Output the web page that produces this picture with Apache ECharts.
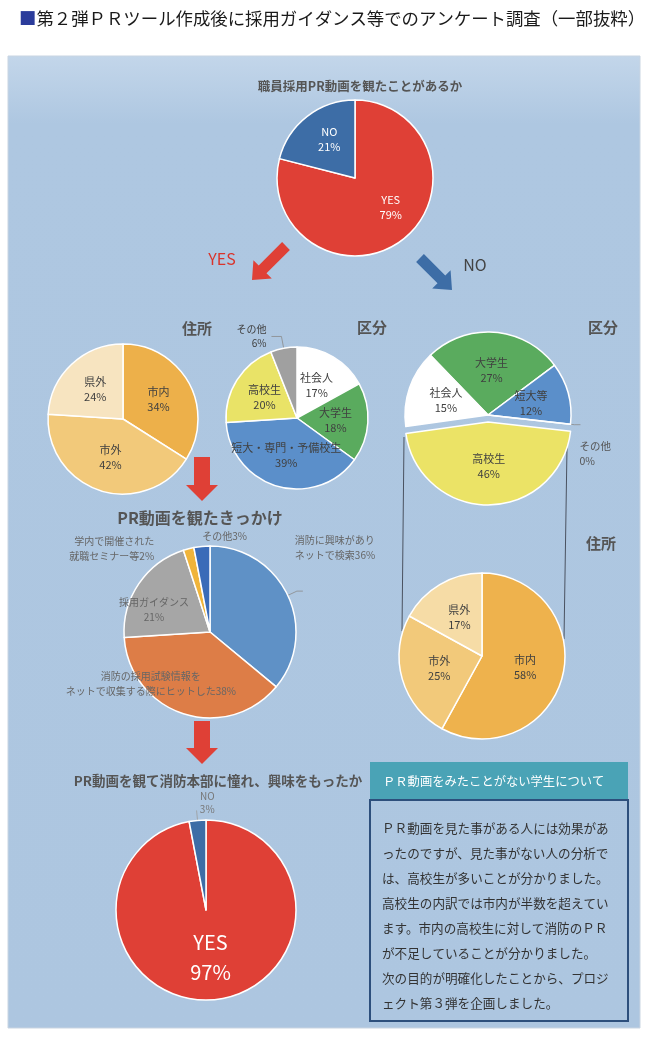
<!DOCTYPE html>
<html><head><meta charset="utf-8">
<script src="https://cdn.jsdelivr.net/npm/echarts@6/dist/echarts.min.js"></script>
<style>html,body{margin:0;padding:0;background:#fff;}#c{width:650px;height:1038px;}</style>
</head><body><div id="c"></div>
<script>
// ---- data ----
const seenLabels = ['YES', 'NO'];
const seenValues = [79, 21];

const yesAddrLabels = ['市内', '市外', '県外'];
const yesAddrValues = [34, 42, 24];

const yesKubunLabels = ['社会人', '大学生', '短大・専門・予備校生', '高校生', 'その他'];
const yesKubunValues = [17, 18, 39, 20, 6];

const noKubunLabels = ['大学生', '短大等', 'その他', '高校生', '社会人'];
const noKubunValues = [27, 12, 0, 46, 15];

const noAddrLabels = ['市内', '市外', '県外'];
const noAddrValues = [58, 25, 17];

const triggerLabels = ['消防に興味があり\nネットで検索', '消防の採用試験情報を\nネットで収集する際にヒットした', '採用ガイダンス\n', '学内で開催された\n就職セミナー等', 'その他'];
const triggerValues = [36, 38, 21, 2, 3];

const likeLabels = ['YES', 'NO'];
const likeValues = [97, 3];

const noteTitle = 'ＰＲ動画をみたことがない学生について';
const noteLines = [
  'ＰＲ動画を見た事がある人には効果があ',
  'ったのですが、見た事がない人の分析で',
  'は、高校生が多いことが分かりました。',
  '高校生の内訳では市内が半数を超えてい',
  'ます。市内の高校生に対して消防のＰＲ',
  'が不足していることが分かりました。',
  '次の目的が明確化したことから、プロジ',
  'ェクト第３弾を企画しました。'
];

// ---- helpers ----
const FONT = '"Noto Sans CJK JP", "Noto Sans", sans-serif';
const RED = '#df4036', BLUE = '#3d6da6';
function mk(labels, values, colors) {
  return labels.map((n, i) => ({ name: n, value: values[i], itemStyle: { color: colors[i] } }));
}
function arrow(tail, tip, shaftW, headW, headL, color) {
  const dx = tip[0] - tail[0], dy = tip[1] - tail[1];
  const L = Math.hypot(dx, dy), ux = dx / L, uy = dy / L, px = -uy, py = ux;
  const b = [tip[0] - ux * headL, tip[1] - uy * headL];
  const pts = [
    [tail[0] + px * shaftW / 2, tail[1] + py * shaftW / 2],
    [b[0] + px * shaftW / 2, b[1] + py * shaftW / 2],
    [b[0] + px * headW / 2, b[1] + py * headW / 2],
    tip,
    [b[0] - px * headW / 2, b[1] - py * headW / 2],
    [b[0] - px * shaftW / 2, b[1] - py * shaftW / 2],
    [tail[0] - px * shaftW / 2, tail[1] - py * shaftW / 2]
  ];
  return { type: 'polygon', shape: { points: pts }, style: { fill: color }, silent: true };
}
function txt(x, y, text, size, color, weight, align) {
  return { type: 'text', x: x, y: y, style: { text: text, font: (weight || 'normal') + ' ' + size + 'px ' + FONT, fill: color, textAlign: align || 'center', textVerticalAlign: 'middle' }, silent: true };
}
const baseLabel = { fontFamily: FONT, fontSize: 11, color: '#404040', lineHeight: 15 };
const pieBase = {
  type: 'pie', startAngle: 90, clockwise: true, animation: false, avoidLabelOverlap: false,
  itemStyle: { borderColor: '#ffffff', borderWidth: 1.5 },
  emphasis: { disabled: true },
  select: { itemStyle: { borderColor: '#ffffff', borderWidth: 1.5 } },
  label: Object.assign({ position: 'inside', formatter: '{b}\n{c}%' }, baseLabel),
  labelLine: { show: false }
};
function pie(o) { return Object.assign({}, JSON.parse(JSON.stringify(pieBase)), o); }

const noteText = noteLines.join('\n');

const option = {
  backgroundColor: '#ffffff',
  animation: false,
  graphic: [
    { type: 'rect', shape: { x: 8, y: 56, width: 632, height: 972 }, style: { fill: { type: 'linear', x: 0, y: 0, x2: 0, y2: 1, colorStops: [{ offset: 0, color: '#c3d6ea' }, { offset: 0.07, color: '#aec7e1' }, { offset: 1, color: '#adc6e0' }] }, stroke: '#c9d5e2', lineWidth: 1 }, silent: true, z: -10 },
    { type: 'text', x: 19, y: 18, style: { text: '{sq|■}{t|第２弾ＰＲツール作成後に採用ガイダンス等でのアンケート調査（一部抜粋）}', rich: { sq: { fill: '#2b3c9b', font: 'normal 17.4px ' + FONT }, t: { fill: '#1a1a1a', font: 'normal 17.4px ' + FONT } }, textVerticalAlign: 'middle' }, silent: true },
    txt(360, 86, '職員採用PR動画を観たことがあるか', 12.5, '#555555', 'bold'),
    txt(222, 259, 'YES', 16, '#d9342b'),
    arrow([286, 246], [252, 280], 11, 26, 15, RED),
    arrow([420, 258], [452, 290], 11, 26, 15, BLUE),
    txt(475, 265, 'NO', 16, '#444444'),
    txt(197, 328, '住所', 15, '#555555', 'bold'),
    txt(372, 327, '区分', 15, '#555555', 'bold'),
    txt(603, 327, '区分', 15, '#555555', 'bold'),
    txt(601, 543, '住所', 15, '#555555', 'bold'),
    { type: 'line', shape: { x1: 404, y1: 437, x2: 402, y2: 631 }, style: { stroke: '#4a5260', lineWidth: 1 }, silent: true },
    { type: 'line', shape: { x1: 567, y1: 447, x2: 564, y2: 639 }, style: { stroke: '#4a5260', lineWidth: 1 }, silent: true },
    arrow([202, 457], [202, 501], 16, 32, 16, RED),
    txt(200, 518, 'PR動画を観たきっかけ', 16, '#555555', 'bold'),
    arrow([202, 721], [202, 764], 16, 32, 16, RED),
    txt(218, 781, 'PR動画を観て消防本部に憧れ、興味をもったか', 13.5, '#555555', 'bold'),
    { type: 'rect', shape: { x: 370, y: 762, width: 258, height: 38 }, style: { fill: '#4aa3b6' }, silent: true },
    { type: 'text', x: 383, y: 781, style: { text: noteTitle, font: 'normal 12.3px ' + FONT, fill: '#ffffff', textVerticalAlign: 'middle' }, silent: true },
    { type: 'rect', shape: { x: 370, y: 800, width: 258, height: 221 }, style: { fill: 'transparent', stroke: '#2d4f7c', lineWidth: 2 }, silent: true },
    { type: 'text', x: 382, y: 816, style: { text: noteText, font: 'normal 12.6px ' + FONT, fill: '#333333', lineHeight: 25 }, silent: true }
  ],
  series: [
    pie({ center: [355, 178], radius: 78, data: mk(seenLabels, seenValues, [RED, BLUE]),
      label: Object.assign({}, baseLabel, { position: 'inside', formatter: '{b}\n{c}%', color: '#ffffff' }),
      labelLayout: function (p) { return p.dataIndex === 0 ? { dx: 10, dy: -4 } : { dx: 0, dy: -6 }; } }),
    pie({ center: [123, 419], radius: 75, data: mk(yesAddrLabels, yesAddrValues, ['#edb04a', '#f2c97a', '#f7e4c0']) }),
    pie({ center: [297, 418], radius: 71,
      data: mk(yesKubunLabels, yesKubunValues, ['#ffffff', '#5aab5e', '#5b8fca', '#e9e367', '#a0a0a0']).map((d, i) => i === 4 ? Object.assign(d, {
        label: { position: 'outside', color: '#404040', fontSize: 10, lineHeight: 14 },
        labelLine: { show: true, length: 12, length2: 10, lineStyle: { color: '#8a8a8a', width: 0.8 } } }) : d) }),
    pie({ center: [488, 415], radius: 83, startAngle: 134, selectedMode: 'single', selectedOffset: 7,
      labelLayout: function (p) { return p.dataIndex === 2 ? { dx: -6, dy: 29 } : {}; },
      data: mk(noKubunLabels, noKubunValues, ['#5aab5e', '#5b8fca', '#a0a0a0', '#ebe366', '#ffffff']).map((d, i) => {
        if (i === 3) d.selected = true;
        if (i === 2) Object.assign(d, { label: { position: 'outside', color: '#555555', fontSize: 10.5 },
          labelLine: { show: true, length: 4, length2: 6, lineStyle: { color: '#8a8a8a', width: 0.8 } } });
        return d; }) }),
    pie({ center: [482, 656], radius: 83, data: mk(noAddrLabels, noAddrValues, ['#eeb24d', '#f2c97a', '#f6dca6']) }),
    pie({ center: [210, 632], radius: 86,
      label: Object.assign({}, baseLabel, { position: 'outside', formatter: '{b}{c}%', color: '#666666', fontSize: 10, lineHeight: 15 }),
      labelLine: { show: true, length: 10, length2: 6, lineStyle: { color: '#8a8a8a', width: 0.8 } },
      labelLayout: function (p) {
        return [{ dx: -13, dy: -43 }, { dx: -45, dy: 8 }, { dx: -18, dy: 4 }, { dx: -21, dy: 10 }, { dx: 57, dy: 0 }][p.dataIndex];
      },
      data: mk(triggerLabels, triggerValues, ['#5f91c6', '#dd7d47', '#a6a6a6', '#f0b43a', '#3a6bb8']).map((d, i) => {
        if (i === 1 || i === 2) Object.assign(d, { label: { position: 'inside', color: '#666666' }, labelLine: { show: false } });
        if (i === 3 || i === 4) Object.assign(d, { labelLine: { show: false } });
        return d; }) }),
    pie({ center: [206, 910], radius: 90,
      labelLayout: function (p) { return p.dataIndex === 1 ? { dx: 23, dy: -8 } : {}; },
      data: mk(likeLabels, likeValues, [RED, BLUE]).map((d, i) => i === 0 ? Object.assign(d, {
        label: { position: 'inside', color: '#ffffff', fontSize: 20, lineHeight: 30 } }) : Object.assign(d, {
        label: { position: 'outside', color: '#777777', fontSize: 10, lineHeight: 13, align: 'center' },
        labelLine: { show: true, length: 10, length2: 0, lineStyle: { color: '#9a9a9a', width: 0.8 } } })) })
  ]
};
const chart = echarts.init(document.getElementById('c'), null, { renderer: 'canvas' });
chart.setOption(option);
</script></body></html>
